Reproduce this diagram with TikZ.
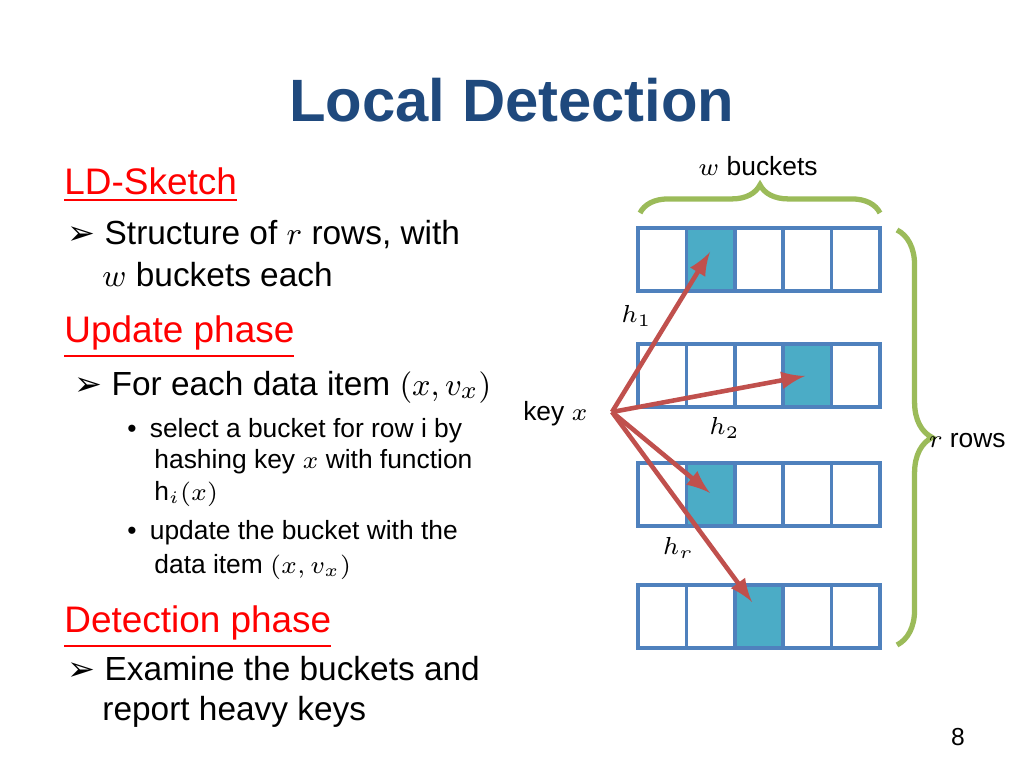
\documentclass[tikz,border=0pt]{standalone}
\usepackage{fontspec}
\setmainfont{Liberation Sans}
\newfontfamily\symfont{DejaVu Sans}
\usepackage{amsmath}
\usetikzlibrary{decorations.pathreplacing}
\definecolor{titleblue}{RGB}{31,73,125}
\definecolor{cellblue}{RGB}{79,129,189}
\definecolor{cellfill}{RGB}{75,172,198}
\definecolor{arrowred}{RGB}{192,80,77}
\definecolor{bracegreen}{RGB}{155,187,89}
\begin{document}
\begin{tikzpicture}[x=0.01cm,y=-0.01cm,
  head/.style={anchor=west,text=red,font=\fontsize{10.5pt}{12pt}\selectfont},
  txt/.style={anchor=west,font=\fontsize{9.5pt}{11pt}\selectfont},
  small/.style={anchor=west,font=\fontsize{7.5pt}{9pt}\selectfont},
  hash/.style={arrowred,line width=1.3pt,-latex},
  brace/.style={bracegreen,line width=1.5pt,decorate,decoration={brace,amplitude=8pt}}]
\useasboundingbox (0,0) rectangle (1024,768);

\node[text=titleblue,font=\bfseries\fontsize{17pt}{20pt}\selectfont] (title) at (512,100) {Local Detection};

% left column
\node[head] (ld) at (52,185) {\underline{LD-Sketch}};
\node[txt] (s1) at (55,235) {{\symfont\char"27A2}\ Structure of $r$ rows, with};
\node[txt] (s2) at (90,275) {$w$ buckets each};
\node[head] (up) at (52,337) {\underline{Update phase}};
\node[txt] (u1) at (62,387) {{\symfont\char"27A2}\ For each data item $(x,v_x)$};
\node[small] (b1) at (115,431) {\textbullet\enspace select a bucket for row $\mathrm{i}$ by};
\node[small] (b2) at (142,462) {hashing key $x$ with function};
\node[small] (b3) at (142,494) {$\mathrm{h}_i(x)$};
\node[small] (b4) at (115,533) {\textbullet\enspace update the bucket with the};
\node[small] (b5) at (142,567) {data item $(x,v_x)$};
\node[head] (dp) at (52,627) {\underline{Detection phase}};
\node[txt] (d1) at (55,669) {{\symfont\char"27A2}\ Examine the buckets and};
\node[txt] (d2) at (90,712) {report heavy keys};
\node[font=\fontsize{7pt}{8pt}\selectfont] (page) at (958,737) {8};

% buckets
\foreach \r/\y/\f in {1/228/2,2/344/4,3/463/2,4/585/3}{
  \fill[cellfill] (638+48.4*\f-48.4,\y) rectangle (638+48.4*\f,\y+63);
  \foreach \c in {1,...,5}
    \draw[cellblue,line width=1pt] (638+48.4*\c-48.4,\y) rectangle (638+48.4*\c,\y+63);
}

\coordinate (k) at (612,412);
\coordinate (t1) at (710,252);
\coordinate (t2) at (805,376);
\coordinate (t3) at (710,493);
\coordinate (t4) at (752,602);
\node[small,anchor=east] (key) at (600,414) {key $x$};
\draw[hash] (k) -- (t1);
\draw[hash] (k) -- (t2);
\draw[hash] (k) -- (t3);
\draw[hash] (k) -- (t4);
\node[small,anchor=east] (h1) at (664,316) {$h_1$};
\node[small] (h2) at (697,428) {$h_2$};
\node[small,anchor=east] (hr) at (706,548) {$h_r$};

% braces
\draw[brace] (640,213) -- (880,213);
\node[small,anchor=center] (wb) at (758,166) {$w$ buckets};
\draw[brace,decoration={brace,amplitude=10pt}] (897,230) -- (897,645);
\node[small,anchor=east] (rr) at (1018,441) {$r$ rows};
\end{tikzpicture}
\end{document}
